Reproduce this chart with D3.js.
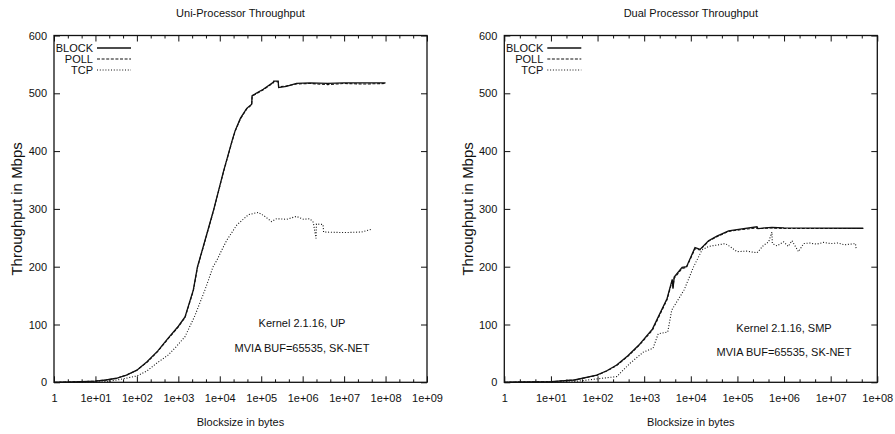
<!DOCTYPE html>
<html>
<head>
<meta charset="utf-8">
<script src="https://cdn.jsdelivr.net/npm/d3@7"></script>
<style>
  body { margin: 0; background: #fff; }
  text { font-family: "Liberation Sans", Arial, Helvetica, sans-serif; fill: #111; }
</style>
</head>
<body>
<svg id="chart" width="895" height="434"></svg>
<script>
// blocksize (bytes) and throughput (Mbps)
const upBlockSize = [1, 3, 10, 18, 32, 56, 100, 178, 316, 562, 1000, 1450, 2300, 2900, 4000, 6900, 12300, 20000, 23400, 31600, 44700, 58900, 60300, 112000, 195000, 200000, 257000, 263000, 407000, 708000, 1.5e6, 4e6, 1e7, 3e7, 1e8];
const upBlock = [0, 0.8, 2, 4, 7, 12.5, 21, 36, 54, 76, 97, 113, 160, 200, 235, 295, 365, 419, 435, 457, 474, 481, 496, 507, 519, 521, 521, 510, 512, 517, 518, 517, 518, 518, 518];
const upPoll = [0, 0.8, 2, 4, 7, 12.5, 21, 35, 53, 75, 96, 112, 158, 199, 234, 294, 364, 418, 434, 456, 473, 480, 495, 506, 518, 520, 520, 511, 513, 516, 517, 515, 517, 516, 517];

const upTcpSize = [1, 10, 20, 40, 100, 178, 300, 562, 900, 1450, 2500, 4400, 6900, 8500, 11200, 14800, 25700, 49000, 85000, 123000, 178000, 234000, 407000, 708000, 1.05e6, 1.5e6, 1.8e6, 2.1e6, 2.15e6, 3.1e6, 3.2e6, 1e7, 2.6e7, 4.7e7];
const upTcp = [0, 0.5, 1.5, 5, 11, 20, 33, 47, 62, 79, 115, 160, 200, 211, 229, 246, 272, 290, 294, 287, 278, 283, 282, 287, 282, 283, 277, 249, 274, 273, 260, 259, 260, 265];

const smpBlockSize = [1, 10, 32, 96, 158, 257, 447, 760, 1500, 3100, 4000, 4150, 4400, 6500, 8100, 12300, 15800, 24000, 36300, 64600, 115000, 263000, 275000, 550000, 1e6, 5e7];
const smpBlock = [0, 1, 4, 12.6, 20, 30, 46, 64, 92, 145, 178, 162, 182, 199, 200, 233, 230, 245, 253, 262, 265, 269, 266, 268, 267, 266.5];
const smpPoll = [0, 1, 4, 12, 19.5, 29, 45, 63, 90, 143, 176, 164, 180, 197, 199, 231, 229, 244, 252, 261, 264, 267, 266, 267, 266, 266];

const smpTcpSize = [1, 30, 100, 260, 282, 500, 950, 1550, 2000, 3200, 3900, 7200, 11500, 17400, 24000, 34000, 55000, 69000, 98000, 158000, 263000, 363000, 468000, 550000, 560000, 708000, 977000, 1.23e6, 1.48e6, 2.04e6, 2.63e6, 3.5e6, 5e6, 7e6, 1e7, 1.4e7, 2e7, 3.4e7, 3.5e7];
const smpTcp = [0, 1, 6, 10, 13, 33, 52, 59, 84, 87, 125, 160, 200, 229, 235, 237, 240, 235, 226, 227, 224, 237, 243, 260, 240, 236, 243, 235, 245, 226, 240, 241, 239, 242, 240, 241, 238, 240, 232];

const yTicks = [0, 100, 200, 300, 400, 500, 600];
const seriesNames = ["BLOCK", "POLL", "TCP"];
const dashes = [null, "3,1.6", "1,1.8"];

(function () {
  "use strict";

  const svg = d3.select("#chart");
  const top = 35.5, bottom = 382.3;

  function fmtExp(e) {
    return e === 0 ? "1" : "1e+" + String(e).padStart(2, "0");
  }

  function Panel(o) {
    let g = svg.append("g");
    let x = d3.scaleLog().domain([1, Math.pow(10, o.maxExp)]).range([o.left, o.right]);
    let y = d3.scaleLinear().domain([0, 600]).range([bottom, top]);

    let majors = d3.range(0, o.maxExp + 1).map(e => Math.pow(10, e));
    let minors = [];
    for (let e = 0; e < o.maxExp; e++) {
      minors.push(Math.pow(10, e + 1 / 3), Math.pow(10, e + 2 / 3));
    }

    function styleAxis(a) {
      a.select(".domain").remove();
      a.selectAll("line").attr("stroke", "#111").attr("stroke-width", 1);
      a.selectAll("text").attr("font-size", 11).attr("font-family", null).attr("fill", "#111");
    }

    g.append("g").attr("transform", `translate(0,${bottom})`)
      .call(d3.axisBottom(x).tickValues(majors).tickFormat((d, i) => fmtExp(i))
        .tickSizeInner(-6).tickSizeOuter(0).tickPadding(12))
      .call(styleAxis);
    g.append("g").attr("transform", `translate(0,${bottom})`)
      .call(d3.axisBottom(x).tickValues(minors).tickFormat("").tickSizeInner(-3).tickSizeOuter(0))
      .call(styleAxis);
    g.append("g").attr("transform", `translate(0,${top})`)
      .call(d3.axisTop(x).tickValues(majors).tickFormat("").tickSizeInner(-6).tickSizeOuter(0))
      .call(styleAxis);
    g.append("g").attr("transform", `translate(0,${top})`)
      .call(d3.axisTop(x).tickValues(minors).tickFormat("").tickSizeInner(-3).tickSizeOuter(0))
      .call(styleAxis);
    g.append("g").attr("transform", `translate(${o.left},0)`)
      .call(d3.axisLeft(y).tickValues(yTicks).tickSizeInner(-6).tickSizeOuter(0).tickPadding(7))
      .call(styleAxis);
    g.append("g").attr("transform", `translate(${o.right},0)`)
      .call(d3.axisRight(y).tickValues(yTicks).tickFormat("").tickSizeInner(-6).tickSizeOuter(0))
      .call(styleAxis);

    g.append("rect")
      .attr("x", o.left).attr("y", top)
      .attr("width", o.right - o.left).attr("height", bottom - top)
      .attr("fill", "none").attr("stroke", "#111").attr("stroke-width", 1.3);

    let cx = (o.left + o.right) / 2;
    g.append("text").attr("x", cx).attr("y", 17).attr("text-anchor", "middle")
      .attr("font-size", 11).text(o.title);
    g.append("text").attr("x", cx).attr("y", 425.5).attr("text-anchor", "middle")
      .attr("font-size", 11).text("Blocksize in bytes");
    // the rotated label is drawn larger in the original
    g.append("text")
      .attr("transform", `translate(${o.left - 37},${(top + bottom) / 2}) rotate(-90)`)
      .attr("text-anchor", "middle").attr("dy", "0.35em").attr("font-size", 15)
      .text("Throughput in Mbps");

    o.notes.forEach(function (n, i) {
      g.append("text").attr("x", o.noteX).attr("y", o.noteY[i]).attr("dy", "0.35em")
        .attr("text-anchor", "middle").attr("font-size", 11).text(n);
    });

    let line = d3.line().x(d => x(d[0])).y(d => y(d[1]));
    o.series.forEach(function (s, i) {
      let pts = s.size.map((v, k) => [v, s.val[k]]);
      g.append("path")
        .attr("d", line(pts))
        .attr("fill", "none")
        .attr("stroke", "#111")
        .attr("stroke-width", i === 0 ? 1.3 : 1.1)
        .attr("stroke-dasharray", dashes[i]);
    });

    // key
    seriesNames.forEach(function (name, i) {
      let ly = 48 + i * 11;
      g.append("text").attr("x", o.left + 39).attr("y", ly).attr("dy", "0.35em")
        .attr("text-anchor", "end").attr("font-size", 11).text(name);
      g.append("line")
        .attr("x1", o.left + 43).attr("x2", o.left + 77)
        .attr("y1", ly).attr("y2", ly)
        .attr("stroke", "#111").attr("stroke-width", i === 0 ? 1.3 : 1.1)
        .attr("stroke-dasharray", dashes[i]);
    });
  }

  Panel({
    left: 54, right: 427, maxExp: 9,
    title: "Uni-Processor Throughput",
    notes: ["Kernel 2.1.16, UP", "MVIA BUF=65535, SK-NET"],
    noteX: 302, noteY: [323, 348],
    series: [
      { size: upBlockSize, val: upBlock },
      { size: upBlockSize, val: upPoll },
      { size: upTcpSize, val: upTcp }
    ]
  });

  Panel({
    left: 504.3, right: 877.3, maxExp: 8,
    title: "Dual Processor Throughput",
    notes: ["Kernel 2.1.16, SMP", "MVIA BUF=65535, SK-NET"],
    noteX: 784, noteY: [328, 352],
    series: [
      { size: smpBlockSize, val: smpBlock },
      { size: smpBlockSize, val: smpPoll },
      { size: smpTcpSize, val: smpTcp }
    ]
  });
})();
</script>
</body>
</html>
